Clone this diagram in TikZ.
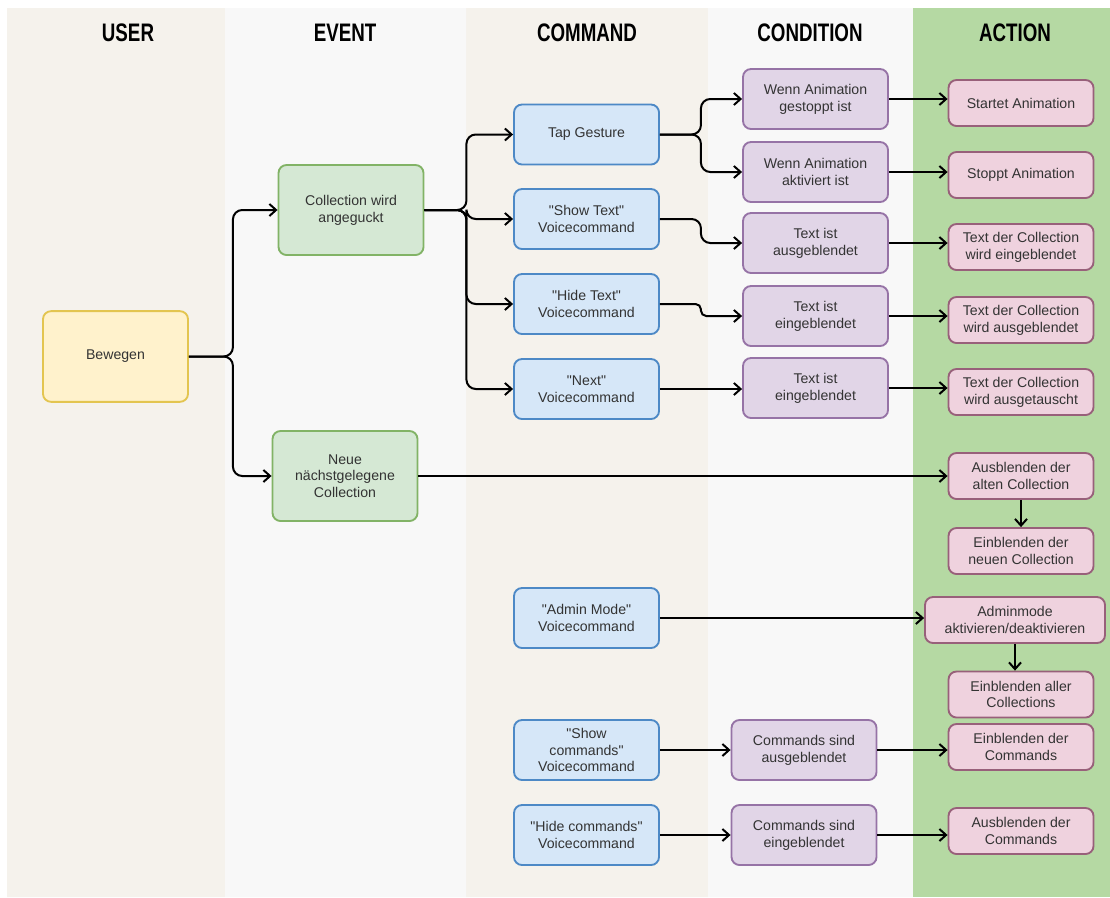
\documentclass[tikz,border=0pt]{standalone}
\usepackage{fontspec}
\newfontfamily\boxfont{Liberation Sans}
\newfontfamily\headfont[FakeStretch=0.74]{Liberation Sans}
\usetikzlibrary{arrows.meta}
\definecolor{beigebg}{HTML}{F5F2EC}
\definecolor{greybg}{HTML}{F8F8F8}
\definecolor{actbg}{HTML}{B5D9A3}
\definecolor{txt}{HTML}{333333}
\definecolor{yelfill}{HTML}{FFF2CC}
\definecolor{yelline}{HTML}{E3C550}
\definecolor{grnfill}{HTML}{D5E8D4}
\definecolor{grnline}{HTML}{82B366}
\definecolor{blufill}{HTML}{D6E7F8}
\definecolor{bluline}{HTML}{4D89C6}
\definecolor{purfill}{HTML}{E1D5E7}
\definecolor{purline}{HTML}{9673A6}
\definecolor{pnkfill}{HTML}{EFD2DE}
\definecolor{pnkline}{HTML}{98607A}
\begin{document}
\begin{tikzpicture}[x=.75pt,y=-.75pt,
  box/.style={draw,rounded corners=6pt,line width=1.4pt,align=center,text=txt,
    font=\boxfont\fontsize{10.6}{12.6}\selectfont,inner sep=2pt,minimum width=108.75pt},
  usr/.style={box,fill=yelfill,draw=yelline,minimum height=68pt},
  evt/.style={box,fill=grnfill,draw=grnline,minimum height=67.5pt},
  cmd/.style={box,fill=blufill,draw=bluline,minimum height=45pt},
  cnd/.style={box,fill=purfill,draw=purline,minimum height=45pt},
  act/.style={box,fill=pnkfill,draw=pnkline,minimum height=34.5pt},
  con/.style={line width=1.5pt,rounded corners=7pt,-{Straight Barb[length=5pt,width=9pt]}},
  head/.style={font=\headfont\bfseries\fontsize{19}{19}\selectfont}]
\useasboundingbox (0,0) rectangle (1110,897);
% lanes
\fill[beigebg] (7,8) rectangle (225,897) (466,8) rectangle (708,897);
\fill[greybg] (225,8) rectangle (466,897) (708,8) rectangle (913,897);
\fill[actbg] (913,8) rectangle (1110,897);
\path (128,33) node[head] (hu) {USER} (345,33) node[head] (he) {EVENT} (587,33) node[head] (hc) {COMMAND}
 (810,33) node[head] (hk) {CONDITION} (1015,33) node[head] (ha) {ACTION};
% user / event
\node[usr] (bew) at (115.5,356.5) {Bewegen};
\node[evt] (look) at (351,210) {Collection wird\\angeguckt};
\node[evt] (near) at (345,476) {Neue\\nächstgelegene\\Collection};
% commands
\node[cmd] (tap) at (586.5,134.5) {Tap Gesture};
\node[cmd] (showtxt) at (586.5,219) {"Show Text"\\Voicecommand};
\node[cmd] (hidetxt) at (586.5,304) {"Hide Text"\\Voicecommand};
\node[cmd] (next) at (586.5,389) {"Next"\\Voicecommand};
\node[cmd] (admin) at (586.5,618) {"Admin Mode"\\Voicecommand};
\node[cmd] (showcmd) at (586.5,750) {"Show\\commands"\\Voicecommand};
\node[cmd] (hidecmd) at (586.5,835) {"Hide commands"\\Voicecommand};
% conditions
\node[cnd] (stopped) at (815.5,99) {Wenn Animation\\gestoppt ist};
\node[cnd] (running) at (815.5,172) {Wenn Animation\\aktiviert ist};
\node[cnd] (txtoff) at (815.5,243) {Text ist\\ausgeblendet};
\node[cnd] (txton) at (815.5,316) {Text ist\\eingeblendet};
\node[cnd] (txtonb) at (815.5,388) {Text ist\\eingeblendet};
\node[cnd] (cmdoff) at (804,750) {Commands sind\\ausgeblendet};
\node[cnd] (cmdon) at (804,835) {Commands sind\\eingeblendet};
% actions
\node[act] (start) at (1021,103) {Startet Animation};
\node[act] (stop) at (1021,175) {Stoppt Animation};
\node[act] (txtin) at (1021,247) {Text der Collection\\wird eingeblendet};
\node[act] (txtout) at (1021,320) {Text der Collection\\wird ausgeblendet};
\node[act] (txtswap) at (1021,392) {Text der Collection\\wird ausgetauscht};
\node[act] (oldout) at (1021,476) {Ausblenden der\\alten Collection};
\node[act] (newin) at (1021,551) {Einblenden der\\neuen Collection};
\node[act,minimum width=135pt] (adm) at (1015,620) {Adminmode\\aktivieren/deaktivieren};
\node[act] (allin) at (1021,694.5) {Einblenden aller\\Collections};
\node[act] (cmdin) at (1021,747) {Einblenden der\\Commands};
\node[act] (cmdout) at (1021,831) {Ausblenden der\\Commands};
% connectors
\foreach \t in {look,near} \draw[con] (bew.east) -- ++(44,0) |- (\t.west);
\foreach \t in {tap,showtxt,hidetxt,next} \draw[con] (look.east) -- ++(42,0) |- (\t.west);
\foreach \s/\t in {tap/stopped, tap/running, showtxt/txtoff} \draw[con] (\s.east) -- ++(41,0) |- (\t.west);
\draw[con,rounded corners=4pt] (hidetxt.east) -- ++(41,0) |- (txton.west);
\foreach \s/\t in {next/txtonb, showcmd/cmdoff, hidecmd/cmdon, near/oldout, admin/adm,
  stopped/start, running/stop, txtoff/txtin, txton/txtout, txtonb/txtswap, cmdoff/cmdin, cmdon/cmdout}
  \draw[con] (\s.east) -- (\s.east -| \t.west);
\foreach \s/\t in {oldout/newin, adm/allin} \draw[con] (\s.south) -- (\s.south |- \t.north);
\end{tikzpicture}
\end{document}
